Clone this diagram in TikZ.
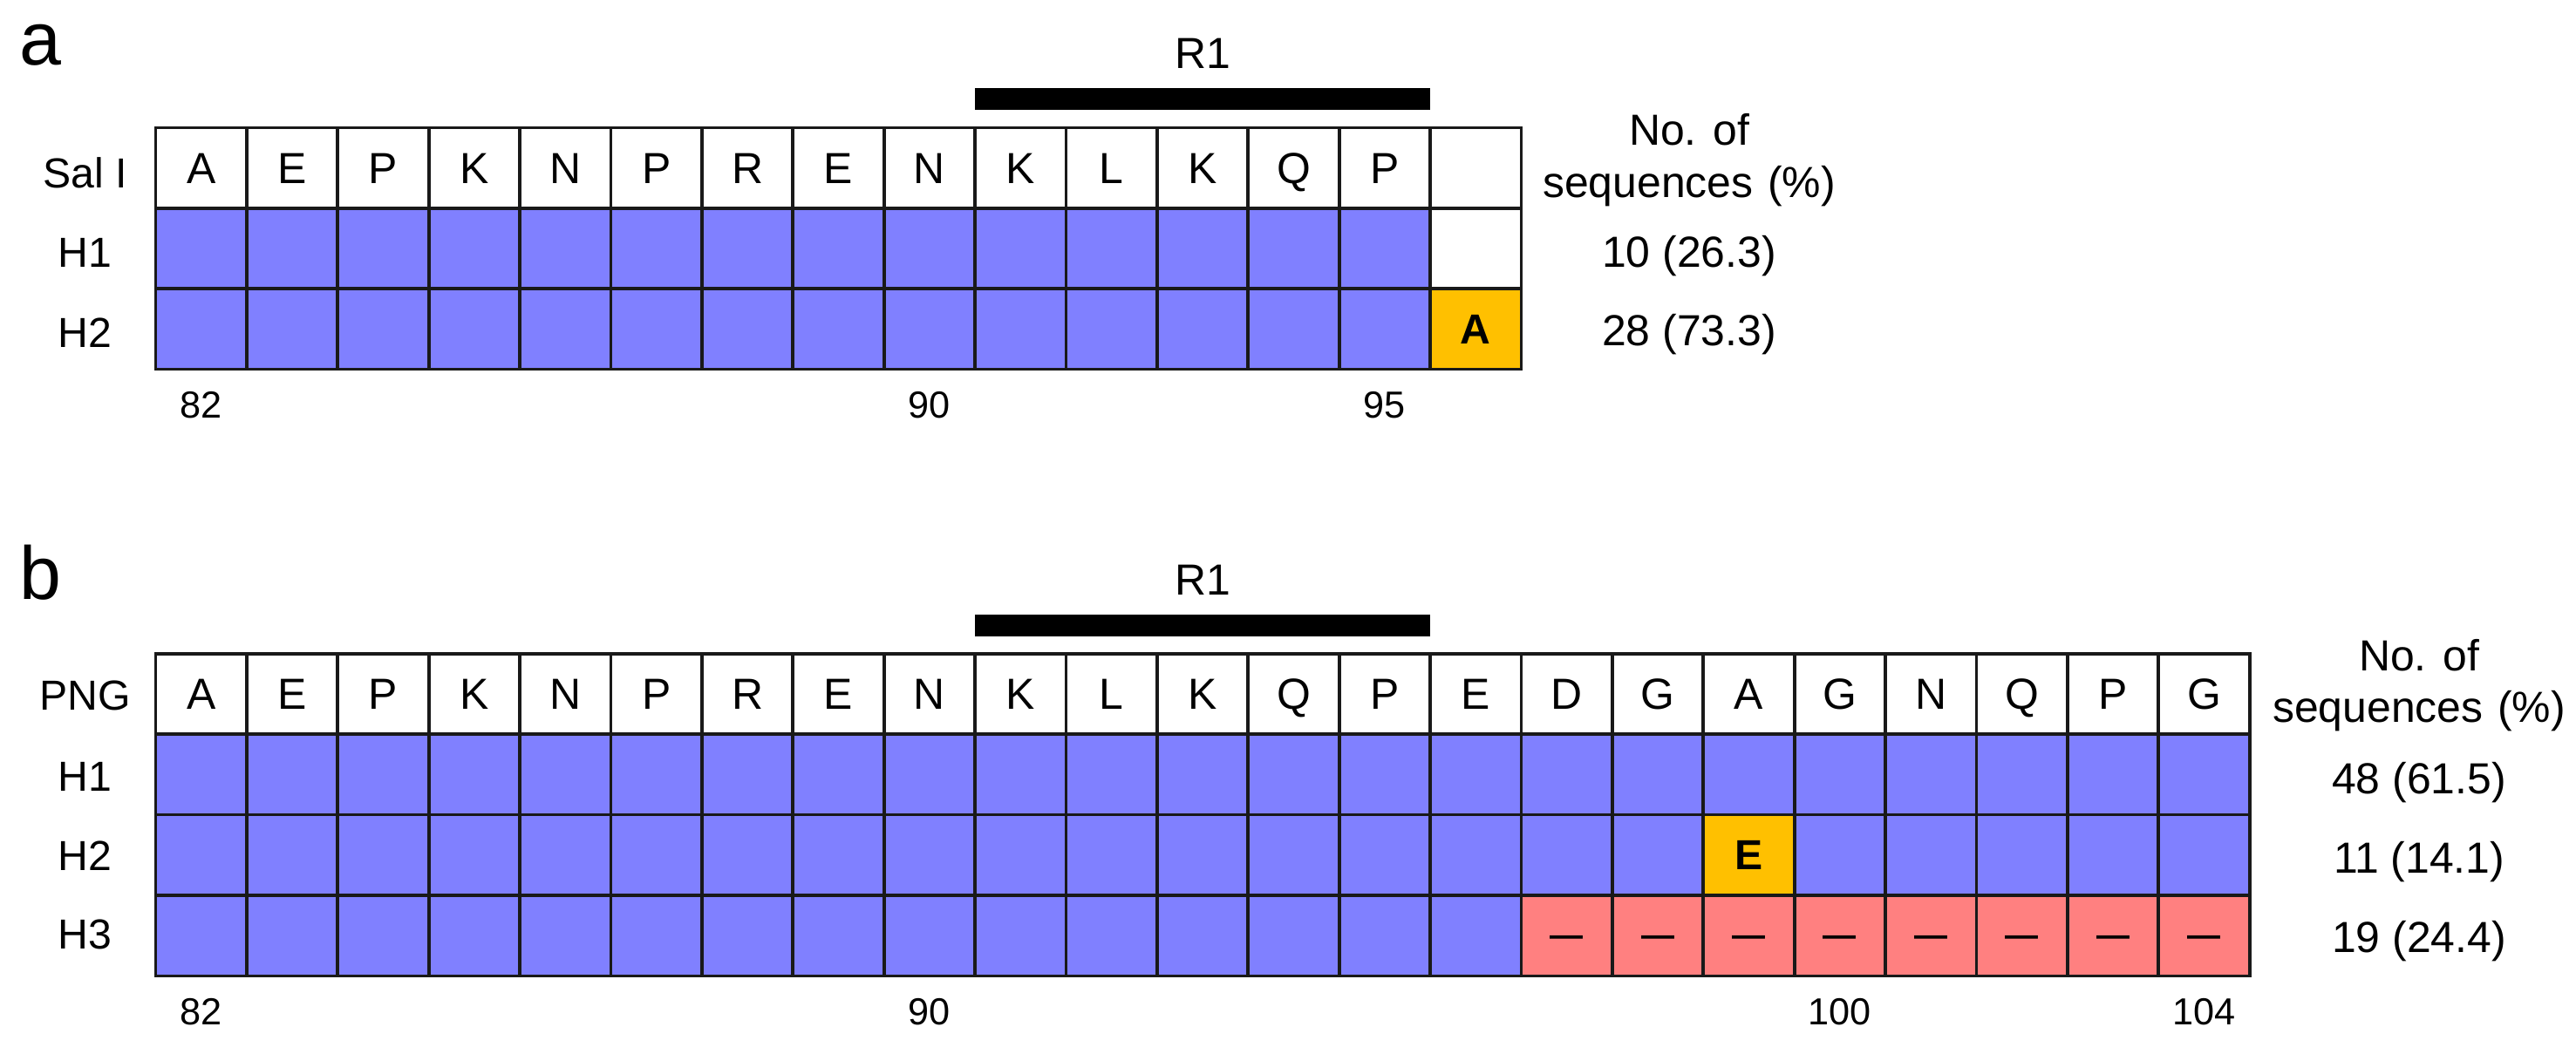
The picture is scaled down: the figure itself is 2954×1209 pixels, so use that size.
\documentclass[tikz,border=0pt]{standalone}
\usepackage{fontspec}
\setmainfont{Liberation Sans}
\definecolor{hblue}{RGB}{128,128,255}
\definecolor{horange}{RGB}{255,192,0}
\definecolor{hred}{RGB}{255,128,128}
\definecolor{gline}{RGB}{25,25,25}
\tikzset{
 cellbase/.style={draw=gline, line width=1.05pt, minimum width=10.44mm, minimum height=9.24mm, inner sep=0pt, outer sep=0pt, text height=3.58mm, text depth=0pt, font=\fontsize{14.2pt}{17pt}\selectfont},
 hdrcell/.style={cellbase, fill=white},
 bluecell/.style={cellbase, fill=hblue},
 mutcell/.style={cellbase, fill=horange, font=\fontsize{13.7pt}{16pt}\selectfont\bfseries, text height=3.4mm},
 delcell/.style={cellbase, fill=hred, font=\fontsize{10.8pt}{13pt}\selectfont\bfseries, text height=2.5mm},
 rowlbl/.style={inner sep=0pt, anchor=base, font=\fontsize{13.7pt}{16pt}\selectfont},
 cnt/.style={inner sep=0pt, anchor=base, font=\fontsize{14.2pt}{17pt}\selectfont},
 posnum/.style={inner sep=0pt, anchor=base, font=\fontsize{12.3pt}{15pt}\selectfont},
 panel/.style={inner sep=0pt, anchor=base west, font=\fontsize{24.5pt}{29pt}\selectfont},
 rbar/.style={fill=black, inner sep=0pt, outer sep=0pt, minimum width=52.2mm, minimum height=2.5mm},
 rlabel/.style={inner sep=0pt, anchor=base, font=\fontsize{14.2pt}{17pt}\selectfont},
}
\begin{document}
\begin{tikzpicture}[x=0.1mm,y=-0.1mm]
\useasboundingbox (0,0) rectangle (2954,1209);

% ---------------- panel a ----------------
\node[panel] (pa) at (22,75) {a};
\node[rbar] (abar) at (1379.1,113.5) {};
\node[rlabel] (ar1) at (1379.1,79) {R1};

\node[rowlbl] (asal) at (97.5,216) {Sal I};
\node[rowlbl] (ah1) at (97.5,307) {H1};
\node[rowlbl] (ah2) at (97.5,399) {H2};

\foreach \l [count=\i] in {A,E,P,K,N,P,R,E,N,K,L,K,Q,P}
  \node[hdrcell] (a0-\i) at ({178.5+(\i-0.5)*104.4},192.6) {\l};
\node[hdrcell] (a0-15) at (1692.3,192.6) {};

\foreach \i in {1,...,14}
  \node[bluecell] (a1-\i) at ({178.5+(\i-0.5)*104.4},285.0) {};
\node[hdrcell] (a1-15) at (1692.3,285.0) {};

\foreach \i in {1,...,14}
  \node[bluecell] (a2-\i) at ({178.5+(\i-0.5)*104.4},377.4) {};
\node[mutcell] (a2-15) at (1692.3,377.4) {A};

\node[posnum] (an82) at (230.7,479) {82};
\node[posnum] (an90) at (1065.9,479) {90};
\node[posnum] (an95) at (1587.9,479) {95};

\node[cnt] (ano) at (1937,167) {No. of};
\node[cnt] (aseq) at (1937,227) {sequences\,\,(\%)};
\node[cnt] (ac1) at (1937,307) {10 (26.3)};
\node[cnt] (ac2) at (1937,397) {28 (73.3)};

% ---------------- panel b ----------------
\node[panel] (pb) at (22,687) {b};
\node[rbar] (bbar) at (1379.1,717) {};
\node[rlabel] (br1) at (1379.1,682.4) {R1};

\node[rowlbl] (bpng) at (97.5,814.7) {PNG};
\node[rowlbl] (bh1) at (97.5,907) {H1};
\node[rowlbl] (bh2) at (97.5,998) {H2};
\node[rowlbl] (bh3) at (97.5,1088.5) {H3};

\foreach \l [count=\i] in {A,E,P,K,N,P,R,E,N,K,L,K,Q,P,E,D,G,A,G,N,Q,P,G}
  \node[hdrcell] (b0-\i) at ({178.5+(\i-0.5)*104.4},796.0) {\l};

\foreach \i in {1,...,23}
  \node[bluecell] (b1-\i) at ({178.5+(\i-0.5)*104.4},888.4) {};

\foreach \i in {1,...,17,19,20,...,23}
  \node[bluecell] (b2-\i) at ({178.5+(\i-0.5)*104.4},980.8) {};
\node[mutcell] (b2-18) at ({178.5+17.5*104.4},980.8) {E};

\foreach \i in {1,...,15}
  \node[bluecell] (b3-\i) at ({178.5+(\i-0.5)*104.4},1073.2) {};
\foreach \i in {16,...,23}
  \node[delcell] (b3-\i) at ({178.5+(\i-0.5)*104.4},1073.2) {\textemdash};

\node[posnum] (bn82) at (230.7,1175) {82};
\node[posnum] (bn90) at (1065.9,1175) {90};
\node[posnum] (bn100) at (2109.9,1175) {100};
\node[posnum] (bn104) at (2527.5,1175) {104};

\node[cnt] (bno) at (2774,769) {No. of};
\node[cnt] (bseq) at (2774,828) {sequences\,\,(\%)};
\node[cnt] (bc1) at (2774,910) {48 (61.5)};
\node[cnt] (bc2) at (2774,1001) {11 (14.1)};
\node[cnt] (bc3) at (2774,1092) {19 (24.4)};
\end{tikzpicture}
\end{document}
